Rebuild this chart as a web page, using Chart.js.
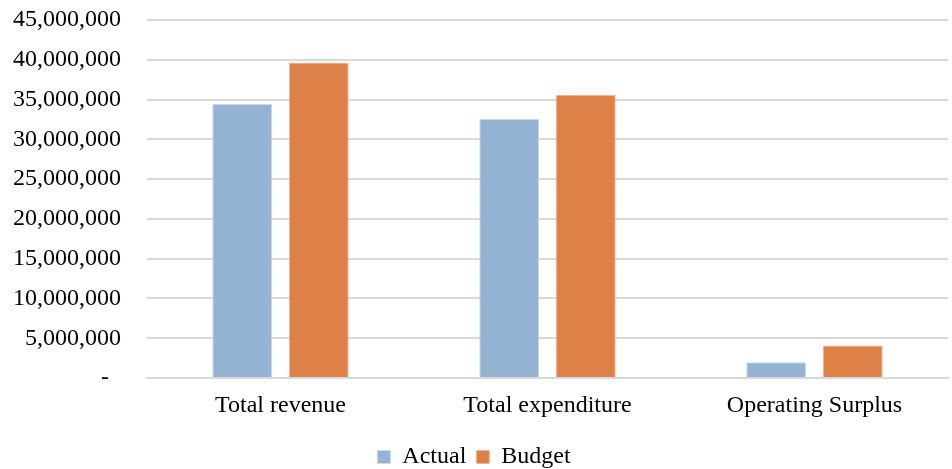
<!DOCTYPE html>
<html>
<head>
<meta charset="utf-8">
<script src="https://cdn.jsdelivr.net/npm/chart.js@4"></script>
<style>
  html, body { margin: 0; padding: 0; background: #fff; }
  #wrap { width: 952px; height: 469px; }
</style>
</head>
<body>
<div id="wrap"><canvas id="myChart"></canvas></div>
<script>
const categories = ['Total revenue', 'Total expenditure', 'Operating Surplus'];
const actual = [34450000, 32580000, 1980000];
const budget = [39650000, 35600000, 4080000];
const yTicks = [0, 5000000, 10000000, 15000000, 20000000, 25000000, 30000000, 35000000, 40000000, 45000000];

Chart.defaults.font.family = '"Liberation Serif", "Times New Roman", serif';
Chart.defaults.color = '#000';

const ctx = document.getElementById('myChart');
const myChart = new Chart(ctx, {
  type: 'bar',
  data: {
    labels: categories,
    datasets: [{
      label: 'Actual',
      data: actual,
      backgroundColor: '#95B3D3',
      borderColor: '#C9DAEC',
      borderWidth: 1,
      categoryPercentage: 0.573,
      barPercentage: 0.784
    }, {
      label: 'Budget',
      data: budget,
      backgroundColor: '#DE8148',
      borderColor: '#EFB590',
      borderWidth: 1,
      categoryPercentage: 0.573,
      barPercentage: 0.784
    }]
  },
  options: {
    responsive: true,
    maintainAspectRatio: false,
    animation: false,
    layout: { padding: { left: 0, right: 4, top: 20, bottom: -10 } },
    plugins: {
      tooltip: { enabled: false },
      legend: {
        position: 'bottom',
        labels: {
          font: { size: 24 },
          boxWidth: 13,
          boxHeight: 13,
          padding: 10
        }
      }
    },
    scales: {
      x: {
        grid: { display: false, drawTicks: false },
        border: { display: true, color: '#d9d9d9', width: 2 },
        ticks: { font: { size: 24 }, padding: 13 },
        afterFit: s => { s.height = 57; }
      },
      y: {
        min: 0,
        max: 45000000,
        afterBuildTicks: s => { s.ticks = yTicks.map(v => ({ value: v })); },
        afterFit: s => { s.width = 147; s.paddingTop = 0; s.paddingBottom = 0; },
        grid: { color: '#d9d9d9', lineWidth: 2, drawTicks: false },
        border: { display: false },
        ticks: {
          font: { size: 24 },
          padding: 26,
          callback: v => v === 0 ? '-  ' : v.toLocaleString('en-US')
        }
      }
    }
  }
});
</script>
</body>
</html>
